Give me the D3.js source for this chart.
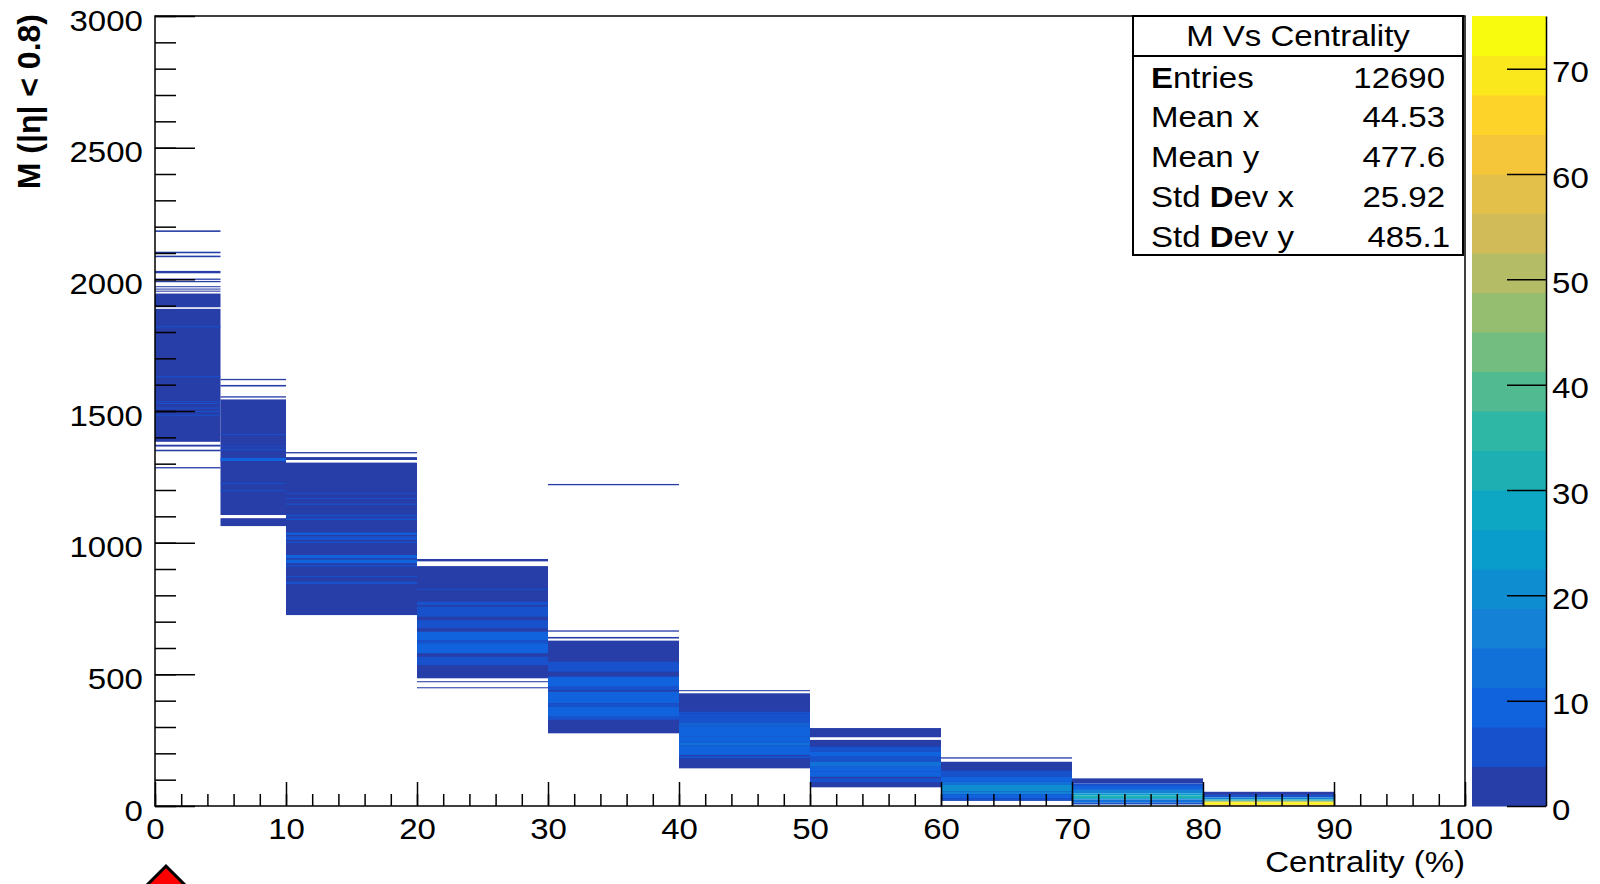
<!DOCTYPE html>
<html>
<head>
<meta charset="utf-8">
<script src="https://cdn.jsdelivr.net/npm/d3@7"></script>
<style>
  html, body { margin: 0; padding: 0; background: #fff; }
  svg { display: block; font-family: "Liberation Sans", Arial, sans-serif; }
</style>
</head>
<body>
<div id="chart"></div>
<script>
// M vs centrality, 2D histogram drawn as COLZ boxes

// centrality class edges (x bins)
const centralityEdges = [0, 5, 10, 20, 30, 40, 50, 60, 70, 80, 90];

// per class: [M low, M high, entries per bin]
// later stripes paint over earlier ones
const stripes0_5 = [
    [2180, 2186, 1], [2099, 2105, 1], [2084, 2090, 1], [2023, 2032, 2], [1998, 2003, 1],
    [1989, 1994, 1], [1970, 1974, 1], [1961, 1965, 1], [1953, 1957, 1],
    [1894, 1946, 2], [1383, 1888, 2],
    [1818, 1822, 5], [1628, 1632, 5], [1535, 1538, 5], [1526, 1530, 5], [1509, 1513, 5],
    [1496, 1500, 5], [1482, 1486, 5],
    [1365, 1372, 1], [1347, 1353, 1], [1282, 1287, 1]
];
const stripes5_10 = [
    [1617, 1622, 1], [1593, 1599, 2], [1551, 1556, 1],
    [1105, 1544, 2], [1063, 1093, 2],
    [1409, 1413, 5], [1365, 1368, 5], [1351, 1355, 5], [1310, 1322, 8], [1223, 1227, 5], [1195, 1199, 5]
];
const stripes10_20 = [
    [1339, 1344, 1], [1314, 1325, 2], [725, 1304, 2],
    [1186, 1189, 5], [1166, 1170, 5], [1144, 1148, 5], [1100, 1106, 6], [1086, 1092, 5],
    [1030, 1038, 8], [1010, 1024, 7], [999, 1004, 6], [941, 953, 8], [922, 936, 8],
    [909, 915, 6], [869, 873, 5], [843, 852, 5]
];
const stripes20_30 = [
    [929, 938, 2], [485, 911, 2],
    [821, 825, 5], [763, 776, 5], [719, 757, 7], [675, 706, 6], [630, 662, 8], [618, 630, 5],
    [580, 618, 8], [535, 567, 6],
    [470, 474, 1], [447, 451, 1]
];
const stripes30_40 = [
    [1218, 1223, 1], [662, 667, 1], [636, 642, 1], [276, 628, 2],
    [510, 548, 7], [453, 491, 8], [440, 453, 5], [390, 434, 9], [377, 390, 5], [339, 377, 8], [327, 339, 5]
];
const stripes40_50 = [
    [436, 440, 1], [143, 428, 2],
    [352, 358, 5], [314, 352, 7], [309, 314, 14], [301, 309, 11], [265, 301, 9], [240, 265, 10],
    [230, 240, 13], [194, 230, 8], [181, 190, 5]
];
const stripes50_60 = [
    [261, 296, 2], [71, 251, 2],
    [206, 225, 5], [187, 206, 8], [168, 187, 7], [149, 168, 13], [130, 149, 10], [111, 130, 8], [90, 105, 5]
];
const stripes60_70 = [
    [180, 185, 1], [20, 168, 2],
    [111, 134, 5], [92, 111, 9], [80, 92, 13], [55, 80, 19], [45, 55, 15], [30, 45, 9], [20, 30, 5]
];
const stripes70_80 = [
    [86, 105, 2], [76, 86, 5], [61, 76, 9], [48, 61, 15], [40, 48, 24], [30, 40, 32],
    [25, 30, 26], [13, 25, 13], [6, 13, 5]
];
const stripes80_90 = [
    [42, 54, 2], [33, 42, 7], [25, 33, 16], [20, 25, 30], [16, 20, 45], [13, 16, 60], [6, 13, 72], [0, 6, 65]
];
const classStripes = [stripes0_5, stripes5_10, stripes10_20, stripes20_30, stripes30_40,
                      stripes40_50, stripes50_60, stripes60_70, stripes70_80, stripes80_90];

// axis ticks
const xTicks = [0, 10, 20, 30, 40, 50, 60, 70, 80, 90, 100];
const yTicks = [0, 500, 1000, 1500, 2000, 2500, 3000];
const zTicks = [0, 10, 20, 30, 40, 50, 60, 70];
const zMax = 75;
const nLevels = 20;

// stats box
const statTitle = "M Vs Centrality";
const statLabels = ["Entries", "Mean x", "Mean y", "Std Dev x", "Std Dev y"];
const statBold = [0, -1, -1, 4, 4];   // index of the glyph that comes out bold
const statValues = ["12690", "44.53", "477.6", "25.92", "485.1"];

// ROOT kBird palette
const birdStops = [0.0000, 0.1250, 0.2500, 0.3750, 0.5000, 0.6250, 0.7500, 0.8750, 1.0000];
const birdRed   = [0.2082, 0.0592, 0.0780, 0.0232, 0.1802, 0.5301, 0.8186, 0.9956, 0.9764];
const birdGreen = [0.1664, 0.3599, 0.5041, 0.6419, 0.7178, 0.7492, 0.7328, 0.7862, 0.9832];
const birdBlue  = [0.5293, 0.8684, 0.8385, 0.7914, 0.6425, 0.4662, 0.3499, 0.1968, 0.0539];

const width = 1600, height = 884;
const frame = {left: 155, top: 16, right: 1465, bottom: 806};
const sx = 1.1;   // the picture's text runs a bit wide
const fontSize = 30;

const x = d3.scaleLinear().domain([0, 100]).range([frame.left, frame.right]);
const y = d3.scaleLinear().domain([0, 3000]).range([frame.bottom, frame.top]);
const z = d3.scaleLinear().domain([0, zMax]).range([frame.bottom, frame.top]);

const bird = d3.scaleLinear()
    .domain(birdStops)
    .range(birdStops.map((s, i) => d3.rgb(birdRed[i] * 255, birdGreen[i] * 255, birdBlue[i] * 255)))
    .interpolate(d3.interpolateRgb);
const nColors = 255;
const levelColor = (k) => bird(Math.floor((k + 0.99) * nColors / nLevels) / (nColors - 1));
const binColor = (v) => levelColor(Math.min(nLevels - 1, Math.floor(0.01 + v * nLevels / zMax)));

const svg = d3.select("#chart").append("svg")
    .attr("width", width)
    .attr("height", height);

// histogram cells
const cells = [];
classStripes.forEach((list, i) => {
    list.forEach((s) => cells.push({x0: centralityEdges[i], x1: centralityEdges[i + 1], m0: s[0], m1: s[1], n: s[2]}));
});
svg.append("g")
    .attr("id", "cells")
  .selectAll("rect")
    .data(cells)
  .enter()
    .append("rect")
    .attr("x", (d) => x(d.x0))
    .attr("width", (d) => x(d.x1) - x(d.x0))
    .attr("y", (d) => y(d.m1))
    .attr("height", (d) => y(d.m0) - y(d.m1))
    .attr("fill", (d) => binColor(d.n));

// frame
svg.append("rect")
    .attr("x", frame.left).attr("y", frame.top)
    .attr("width", frame.right - frame.left).attr("height", frame.bottom - frame.top)
    .attr("fill", "none").attr("stroke", "#000").attr("stroke-width", 1.5);

function styleAxis(g) {
    g.select(".domain").remove();
    g.selectAll(".tick line").attr("stroke", "#000").attr("stroke-width", 1.5);
    g.selectAll("text").attr("fill", "#000").attr("font-size", fontSize)
        .attr("font-family", "'Liberation Sans', Arial, sans-serif");
}

// x axis, ticks pointing into the frame
svg.append("g")
    .attr("transform", `translate(0,${frame.bottom})`)
    .call(d3.axisBottom(x).tickValues(d3.range(0, 101, 2)).tickSizeInner(-12).tickSizeOuter(0).tickFormat(""))
    .call(styleAxis);
svg.append("g")
    .attr("transform", `translate(0,${frame.bottom})`)
    .call(d3.axisBottom(x).tickValues(xTicks).tickSizeInner(-24).tickSizeOuter(0).tickPadding(0)
            .tickFormat(d3.format("d")))
    .call(styleAxis)
    .call((g) => g.selectAll("text").attr("y", 33).attr("dy", 0).attr("transform", `scale(${sx},1)`));

// y axis
svg.append("g")
    .attr("transform", `translate(${frame.left},0)`)
    .call(d3.axisLeft(y).tickValues(d3.range(0, 3001, 100)).tickSizeInner(-21).tickSizeOuter(0).tickFormat(""))
    .call(styleAxis);
svg.append("g")
    .attr("transform", `translate(${frame.left},0)`)
    .call(d3.axisLeft(y).tickValues(yTicks).tickSizeInner(-40).tickSizeOuter(0).tickPadding(11)
            .tickFormat(d3.format("d")))
    .call(styleAxis)
    .call((g) => g.selectAll("text").attr("dy", 14).attr("transform", `scale(${sx},1)`));

// axis titles
svg.append("g")
    .attr("transform", `translate(${frame.right},872) scale(${sx},1)`)
  .append("text")
    .attr("text-anchor", "end")
    .attr("font-size", fontSize)
    .text("Centrality (%)");
svg.append("text")
    .attr("transform", "translate(40,14) rotate(-90)")
    .attr("text-anchor", "end")
    .attr("font-size", 32)
    .attr("font-weight", "bold")
    .text("M (|η| < 0.8)");

// colour bar
const bar = {left: 1472, right: 1546};
svg.append("g")
    .attr("id", "palette")
  .selectAll("rect")
    .data(d3.range(nLevels))
  .enter()
    .append("rect")
    .attr("x", bar.left)
    .attr("width", bar.right - bar.left)
    .attr("y", (k) => z((k + 1) * zMax / nLevels))
    .attr("height", (k) => z(k * zMax / nLevels) - z((k + 1) * zMax / nLevels) + 0.5)
    .attr("fill", (k) => levelColor(k));
svg.append("g")
    .attr("transform", `translate(${bar.right},0)`)
    .call(d3.axisRight(z).tickValues(zTicks).tickSizeInner(-39).tickSizeOuter(0).tickPadding(5.5)
            .tickFormat(d3.format("d")))
    .call((g) => {
        g.select(".domain").attr("stroke", "#000").attr("stroke-width", 1.5);
        g.selectAll(".tick line").attr("stroke", "#000").attr("stroke-width", 1.5);
        g.selectAll("text").attr("fill", "#000").attr("font-size", fontSize)
            .attr("font-family", "'Liberation Sans', Arial, sans-serif")
            .attr("dy", 13).attr("transform", `scale(${sx},1)`);
    });

// stats box
const stats = {left: 1133, right: 1463, top: 16, bottom: 255, titleLine: 56};
const sg = svg.append("g").attr("id", "stats");
sg.append("rect")
    .attr("x", stats.left).attr("y", stats.top)
    .attr("width", stats.right - stats.left).attr("height", stats.bottom - stats.top)
    .attr("fill", "#fff").attr("stroke", "#000").attr("stroke-width", 2);
sg.append("line")
    .attr("x1", stats.left).attr("x2", stats.right)
    .attr("y1", stats.titleLine).attr("y2", stats.titleLine)
    .attr("stroke", "#000").attr("stroke-width", 2);
sg.append("g")
    .attr("transform", `translate(${(stats.left + stats.right) / 2},45.5) scale(${sx},1)`)
  .append("text")
    .attr("text-anchor", "middle")
    .attr("font-size", fontSize)
    .text(statTitle);

const rowY = d3.scaleLinear().domain([0, statLabels.length - 1]).range([87.5, 246.6]);
statLabels.forEach((label, i) => {
    const t = sg.append("g")
        .attr("transform", `translate(1151,${rowY(i)}) scale(${sx},1)`)
      .append("text")
        .attr("font-size", fontSize);
    const b = statBold[i];
    if (b < 0) {
        t.text(label);
    } else {
        if (b > 0) t.append("tspan").text(label.slice(0, b));
        t.append("tspan").attr("font-weight", "bold").text(label[b]);
        t.append("tspan").text(label.slice(b + 1));
    }
    sg.append("g")
        .attr("transform", `translate(${statValues[i].endsWith("1") ? 1450 : 1445},${rowY(i)}) scale(${sx},1)`)
      .append("text")
        .attr("text-anchor", "end")
        .attr("font-size", fontSize)
        .text(statValues[i]);
});

// red marker peeking in at the bottom edge
svg.append("path")
    .attr("d", d3.symbol(d3.symbolSquare, 1150)())
    .attr("transform", "translate(166,890) rotate(45)")
    .attr("fill", "#f00")
    .attr("stroke", "#000")
    .attr("stroke-width", 3);
</script>
</body>
</html>
